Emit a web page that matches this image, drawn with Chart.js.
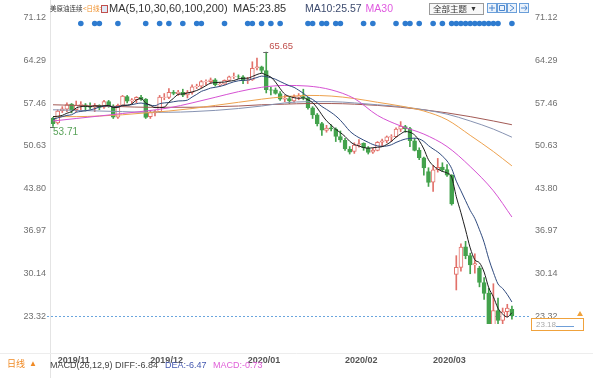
<!DOCTYPE html>
<html><head><meta charset="utf-8">
<script src="https://cdn.jsdelivr.net/npm/chart.js@4.4.1/dist/chart.umd.min.js"></script>
<style>html,body{margin:0;padding:0;background:#fff;overflow:hidden}canvas{display:block}</style>
</head><body>
<canvas id="c" width="593" height="378"></canvas>
<script>
// ---- data ----
const dates = ['2019-10-31',
 '2019-11-01','2019-11-04','2019-11-05','2019-11-06','2019-11-07','2019-11-08','2019-11-11','2019-11-12','2019-11-13','2019-11-14','2019-11-15','2019-11-18','2019-11-19','2019-11-20','2019-11-21','2019-11-22','2019-11-25','2019-11-26','2019-11-27','2019-11-29',
 '2019-12-02','2019-12-03','2019-12-04','2019-12-05','2019-12-06','2019-12-09','2019-12-10','2019-12-11','2019-12-12','2019-12-13','2019-12-16','2019-12-17','2019-12-18','2019-12-19','2019-12-20','2019-12-23','2019-12-24','2019-12-26','2019-12-27','2019-12-30','2019-12-31',
 '2020-01-02','2020-01-03','2020-01-06','2020-01-07','2020-01-08','2020-01-09','2020-01-10','2020-01-13','2020-01-14','2020-01-15','2020-01-16','2020-01-17','2020-01-21','2020-01-22','2020-01-23','2020-01-24','2020-01-27','2020-01-28','2020-01-29','2020-01-30','2020-01-31',
 '2020-02-03','2020-02-04','2020-02-05','2020-02-06','2020-02-07','2020-02-10','2020-02-11','2020-02-12','2020-02-13','2020-02-14','2020-02-18','2020-02-19','2020-02-20','2020-02-21','2020-02-24','2020-02-25','2020-02-26','2020-02-27','2020-02-28',
 '2020-03-02','2020-03-03','2020-03-04','2020-03-05','2020-03-06','2020-03-09','2020-03-10','2020-03-11','2020-03-12','2020-03-13','2020-03-16','2020-03-17','2020-03-18','2020-03-19','2020-03-20','2020-03-23','2020-03-24','2020-03-25'];

const opens = [55.06,54.30,56.25,56.50,57.30,56.40,57.10,57.20,56.90,56.80,
 57.10,56.80,57.70,57.00,55.20,57.10,58.50,57.80,58.00,58.40,
 58.10,55.30,55.90,56.10,58.40,58.40,59.20,59.00,59.20,58.80,
 59.20,60.10,60.20,60.90,60.90,61.20,60.40,60.50,61.10,61.70,
 61.70,61.70,61.10,61.20,63.10,63.30,62.70,59.60,59.60,59.00,
 58.10,58.20,57.80,58.50,58.50,58.30,56.70,55.60,54.20,53.10,
 53.50,53.30,52.10,51.50,50.10,49.70,50.80,51.00,50.30,49.60,
 49.90,51.20,51.40,52.00,52.10,53.30,53.70,53.40,51.40,49.90,
 48.70,46.50,44.80,46.80,47.20,46.80,45.90,30.00,31.10,34.40,
 33.00,31.50,31.00,28.70,27.00,21.00,24.20,22.60,24.00,24.40];
const highs = [55.20,56.40,56.90,57.50,57.40,57.80,57.70,57.40,57.50,57.40,
 57.20,57.90,57.90,57.20,57.30,58.70,58.70,58.20,58.50,58.70,
 58.20,56.30,56.30,58.70,59.00,59.80,59.50,59.50,59.70,59.50,
 60.40,60.50,61.10,61.20,61.50,61.40,60.80,61.20,61.80,62.30,
 62.00,61.90,61.60,64.10,64.70,63.40,65.65,60.00,59.90,59.30,
 58.70,58.40,58.80,59.00,59.70,58.40,56.90,55.80,54.40,53.90,
 54.00,53.50,53.00,51.80,50.50,51.10,51.60,51.10,50.50,50.20,
 51.30,51.70,52.20,52.40,53.50,54.50,53.90,53.60,51.80,50.30,
 48.80,47.10,47.50,48.60,47.90,47.60,46.00,33.00,34.90,35.30,
 33.40,33.30,31.30,29.50,27.80,28.50,26.20,24.60,25.20,24.90];
const lows = [53.71,54.10,55.95,56.10,55.90,56.10,56.20,56.20,56.50,56.10,
 56.40,56.60,56.80,55.00,55.00,56.90,57.50,57.40,57.50,57.90,
 55.00,55.00,55.40,56.00,58.00,58.20,58.80,58.70,58.50,58.30,
 58.90,59.80,59.90,60.40,60.60,60.20,60.20,60.40,61.00,61.40,
 61.40,60.60,60.60,61.10,62.80,62.30,59.10,58.80,58.90,57.90,
 57.70,57.40,57.60,58.00,58.00,56.50,55.00,53.80,52.30,52.80,
 53.00,51.30,51.20,49.90,49.30,49.40,50.40,49.90,49.30,49.40,
 49.80,50.60,51.10,51.30,52.00,52.90,52.80,50.50,49.80,48.40,
 45.90,44.10,43.30,46.40,46.50,45.70,41.10,27.50,30.50,32.50,
 30.10,30.20,28.00,26.00,20.10,20.30,21.50,21.00,23.20,22.80];
const closes = [54.18,56.20,56.54,57.23,56.35,57.15,57.24,56.86,56.80,57.12,
 56.77,57.72,57.05,55.21,57.11,58.58,57.77,58.01,58.41,58.11,
 55.17,55.96,56.10,58.43,58.45,59.20,59.02,59.24,58.76,59.18,
 60.07,60.21,60.94,60.93,61.22,60.44,60.52,61.11,61.68,61.72,
 61.68,61.06,61.18,63.05,63.27,62.70,59.61,59.56,59.04,58.08,
 58.23,57.81,58.52,58.54,58.34,56.74,55.59,54.19,53.14,53.48,
 53.33,52.14,51.56,50.11,49.61,50.75,50.95,50.32,49.57,49.94,
 51.17,51.42,52.05,52.08,53.29,53.78,53.38,51.43,49.90,48.73,
 47.09,44.76,46.75,47.18,46.78,45.90,41.28,31.13,34.36,32.98,
 31.50,31.73,28.70,26.95,20.40,24.20,22.60,24.00,24.60,23.32];

const ma5 = [55.30,55.36,55.50,55.85,56.10,56.69,56.90,56.97,56.88,57.03,
 56.96,57.05,57.09,56.77,56.77,57.13,57.14,57.34,57.98,58.18,
 57.49,57.13,56.75,56.75,56.82,57.62,58.24,58.86,58.93,59.08,
 59.25,59.49,59.83,60.27,60.67,60.75,60.81,60.84,60.99,61.09,
 61.34,61.45,61.46,61.74,62.05,62.25,61.96,61.64,60.84,59.80,
 58.90,58.54,58.34,58.24,58.29,57.99,57.55,56.68,55.60,54.63,
 53.95,53.26,52.73,52.12,51.35,50.83,50.60,50.35,50.24,50.31,
 50.39,50.48,50.83,51.33,52.00,52.52,52.91,52.79,52.36,51.44,
 50.11,48.38,47.45,46.90,46.51,46.27,45.58,42.45,39.89,37.13,
 34.25,32.34,31.85,30.37,27.86,26.40,24.57,23.63,23.16,23.85];
const ma10 = [54.90,55.10,55.30,55.50,55.60,56.00,56.13,56.24,56.37,56.57,
 56.83,56.98,57.03,56.83,56.90,57.05,57.10,57.22,57.38,57.48,
 57.31,57.14,57.05,57.37,57.50,57.56,57.69,57.81,57.84,57.95,
 58.44,58.87,59.35,59.60,59.88,60.00,60.15,60.34,60.63,60.88,
 61.05,61.13,61.15,61.37,61.57,61.80,61.71,61.55,61.29,60.93,
 60.58,60.25,59.99,59.54,59.05,58.45,58.05,57.51,56.92,56.46,
 55.97,55.41,54.71,53.86,52.99,52.39,51.93,51.54,51.18,50.83,
 50.61,50.54,50.59,50.79,51.16,51.46,51.70,51.81,51.85,51.72,
 51.32,50.65,50.12,49.63,48.98,48.19,46.98,44.95,43.40,41.82,
 40.26,38.96,37.15,35.13,32.50,30.33,28.46,27.74,26.77,25.57];

// long averages, read at every 5th session
const maLongIdx = [0,5,10,15,20,25,30,35,40,45,50,55,60,65,70,75,80,85,90,95,99];
const ma30  = [54.6,55.0,55.4,55.8,56.2,56.7,57.5,58.4,59.3,60.0,60.3,60.2,59.6,58.2,55.5,53.8,52.5,50.5,47.3,43.4,39.2];
const ma60  = [55.3,55.3,55.4,55.6,55.9,56.2,56.6,57.1,57.6,58.1,58.5,58.7,58.6,58.2,57.6,57.0,56.2,54.8,52.3,49.7,47.4];
const ma100 = [56.4,56.3,56.2,56.1,56.0,56.0,56.1,56.3,56.6,57.0,57.5,57.7,57.7,57.5,57.2,56.9,56.4,55.7,54.6,53.3,52.0];
const ma200 = [57.2,57.1,57.0,56.9,56.8,56.8,56.8,56.9,57.0,57.2,57.3,57.4,57.4,57.3,57.1,56.8,56.4,55.9,55.3,54.6,54.0];

// news / event markers row
const eventIdx = [6,9,10,14,20,23,25,28,31,32,37,42,43,45,47,49,55,56,58,59,61,62,67,69,74,76,77,79,82,84,86,87,88,89,90,91,92,93,94,95,96,99];
const eventLevel = 70.24;

const monthLabels = ['2019/11','2019/12','2020/01','2020/02','2020/03'];
const monthIdx = monthLabels.map(m => dates.findIndex(d => d.slice(0,7) === m.replace('/','-')));
const yTicks = [23.32,30.14,36.97,43.80,50.63,57.46,64.29,71.12];
const lastPrice = 23.32;
const tagPrice = '23.18';
const legendMA5 = '23.85', legendMA10 = '25.57';
const macdText = {diff:'-6.84', dea:'-6.47', macd:'-0.73'};

// ---- build ----
const UP = '#e2716a', DOWN = '#43a24c';
const isUp = closes.map((c,i) => c >= opens[i]);
const wick = dates.map((d,i) => ({x:i, y:[lows[i], highs[i]]}));
const body = dates.map((d,i) => ({x:i, y:[opens[i], closes[i]]}));
const pts = arr => arr.map((v,i) => ({x:i, y:v}));
const ptsSparse = arr => arr.map((v,k) => ({x:maLongIdx[k], y:v}));
const lineDs = (label, data, color) => ({type:'line', label, data, borderColor:color, borderWidth:1,
  pointRadius:0, cubicInterpolationMode:'monotone', fill:false, order:0});

const decor = {
  id:'decor',
  beforeDraw(chart){
    const c = chart.ctx; c.save(); c.fillStyle='#fff'; c.fillRect(0,0,chart.width,chart.height); c.restore();
  },
  beforeDatasetsDraw(chart){
    const c = chart.ctx, y = chart.scales.y, a = chart.chartArea;
    const py = Math.round(y.getPixelForValue(lastPrice)) + 0.5;
    c.save(); c.strokeStyle='#6aa5dd'; c.lineWidth=1; c.setLineDash([2,2]);
    c.beginPath(); c.moveTo(47, py); c.lineTo(a.right, py); c.stroke(); c.restore();
  },
  afterDraw(chart){
    const c = chart.ctx, xs = chart.scales.x, ys = chart.scales.y;
    const cjk = s => s + 'px "Noto Sans CJK SC", sans-serif';
    const lat = s => s + 'px "Liberation Sans", Arial, sans-serif';
    const t = (s,x,y,font,color,align) => { c.font=font; c.fillStyle=color; c.textAlign=align||'left'; c.textBaseline='middle'; c.fillText(s,x,y); return c.measureText(s).width; };
    c.save();
    // frame lines
    c.strokeStyle='#e4e4e4'; c.lineWidth=1;
    c.beginPath(); c.moveTo(50.5,0); c.lineTo(50.5,378); c.stroke();
    c.strokeStyle='#ededed';
    c.beginPath(); c.moveTo(0,353.5); c.lineTo(593,353.5); c.stroke();
    // header
    let hx = 50;
    hx += t('美原油连续', hx, 9, cjk(6.5), '#333');
    t('<日线>', hx + 0.5, 9, cjk(6.5), '#f0902a');
    c.fillStyle='#dfe9f6'; c.fillRect(101,5.5,7,7); c.strokeStyle='#c0504d'; c.strokeRect(101.5,5.5,6,7);
    t('MA(5,10,30,60,100,200)', 109, 9, lat(11), '#333');
    t('MA5:' + legendMA5, 233, 9, lat(11), '#333');
    const w10 = t('MA10:' + legendMA10, 305, 9, lat(10.5), '#3c4a6e');
    t('MA30', 305 + w10 + 4, 9, lat(10.5), '#e05ae0');
    // theme dropdown + tool icons
    c.fillStyle='#f8f8f8'; c.fillRect(429.5,3.5,54,11); c.strokeStyle='#9a9a9a'; c.strokeRect(429.5,3.5,54,11);
    t('全部主题', 433, 9, cjk(8.5), '#333');
    t('▼', 470, 9.5, lat(7), '#333');
    [487,497,507,519].forEach((x,k) => {
      c.fillStyle='#eaf2fb'; c.fillRect(x+0.5,3.5,9,9); c.strokeStyle='#6b9fd9'; c.strokeRect(x+0.5,3.5,9,9);
      c.strokeStyle='#4a86cf'; c.beginPath();
      if (k===0){ c.moveTo(x+5,5); c.lineTo(x+5,11); c.moveTo(x+2,8); c.lineTo(x+8,8); }
      else if (k===1){ c.rect(x+2.5,5.5,5,5); }
      else if (k===2){ c.moveTo(x+3,5); c.lineTo(x+7,8); c.lineTo(x+3,11); }
      else { c.moveTo(x+2,8); c.lineTo(x+8,8); c.moveTo(x+6,5.5); c.lineTo(x+8,8); c.lineTo(x+6,10.5); }
      c.stroke();
    });
    // high / low annotations
    const hi = highs.indexOf(Math.max(...highs));
    const firstMonth = lows.slice(0, monthIdx[1]);
    const lo = lows.indexOf(Math.min(...firstMonth));
    let px = xs.getPixelForValue(hi), py = ys.getPixelForValue(highs[hi]);
    c.strokeStyle='#666'; c.beginPath(); c.moveTo(px-3, Math.round(py)+0.5); c.lineTo(px+2, Math.round(py)+0.5); c.stroke();
    t(highs[hi].toFixed(2), px+3, py-6, lat(9.5), '#c0504d');
    px = xs.getPixelForValue(lo); py = ys.getPixelForValue(lows[lo]);
    c.strokeStyle='#666'; c.beginPath(); c.moveTo(px-3, Math.round(py)+0.5); c.lineTo(px+2, Math.round(py)+0.5); c.stroke();
    t(lows[lo].toFixed(2), px, py+6, lat(10), '#5aa35a');
    // right price tag
    c.strokeStyle='#f0a23c'; c.strokeRect(531.5,318.5,52,12);
    c.fillStyle='#fff'; c.fillRect(532,319,51,11);
    t(tagPrice, 536, 325, lat(8), '#aaa');
    c.strokeStyle='#6f9fd8'; c.beginPath(); c.moveTo(556,326.5); c.lineTo(574,326.5); c.stroke();
    c.fillStyle='#f0a23c'; c.beginPath(); c.moveTo(580,311); c.lineTo(583,316); c.lineTo(577,316); c.closePath(); c.fill();
    // bottom bar
    t('日线', 7, 364, cjk(9), '#f08a24');
    t('▲', 29, 364, lat(8), '#f08a24');
    t('MACD(26,12,9) DIFF:' + macdText.diff, 50, 366, lat(9), '#444');
    t('DEA:' + macdText.dea, 165, 366, lat(9), '#4458b0');
    t('MACD:' + macdText.macd, 213, 366, lat(9), '#e060d8');
    c.restore();
  }
};

Chart.defaults.font.family = '"Liberation Sans", Arial, sans-serif';
new Chart(document.getElementById('c'), {
  type:'bar',
  data:{ datasets:[
    {type:'line', label:'events', data: eventIdx.map(i => ({x:i, y:eventLevel})), showLine:false,
      pointRadius:2.8, pointBackgroundColor:'#2e7bcf', pointBorderWidth:0, order:0},
    lineDs('MA5', pts(ma5), '#1e1e1e'),
    lineDs('MA10', pts(ma10), '#2f4a7e'),
    lineDs('MA30', ptsSparse(ma30), '#d652d3'),
    lineDs('MA60', ptsSparse(ma60), '#eea24e'),
    lineDs('MA100', ptsSparse(ma100), '#8793b2'),
    lineDs('MA200', ptsSparse(ma200), '#a35a55'),
    {label:'body', data: body, grouped:false, barThickness:4, borderWidth:1, borderSkipped:false,
      backgroundColor: isUp.map(u => u ? '#ffffff' : DOWN), borderColor: isUp.map(u => u ? UP : DOWN), order:1},
    {label:'wick', data: wick, grouped:false, barThickness:1, borderWidth:0,
      backgroundColor: isUp.map(u => u ? UP : DOWN), order:2}
  ]},
  options:{
    responsive:false, animation:false,
    layout:{padding:{top:14, left:0, right:0, bottom:0}},
    plugins:{legend:{display:false}, tooltip:{enabled:false}},
    scales:{
      x:{type:'linear', min:-0.65, max:102.9, offset:false,
        grid:{display:false, drawTicks:false}, border:{display:false},
        afterBuildTicks: s => { s.ticks = monthIdx.map(v => ({value:v})); },
        afterFit: s => { s.height = 54; },
        ticks:{autoSkip:false, maxRotation:0, minRotation:0, align:'start', padding:31, color:'#555',
          font:{size:9, weight:'bold'}, callback:(v,i) => monthLabels[i]}},
      y:{position:'left', min:22.04, max:71.76,
        grid:{display:false, drawTicks:false}, border:{display:false},
        afterBuildTicks: s => { s.ticks = yTicks.map(v => ({value:v})); },
        afterFit: s => { s.width = 50; },
        ticks:{padding:4, color:'#707070', font:{size:9}, callback: v => Number(v).toFixed(2)}},
      y2:{position:'right', min:22.04, max:71.76,
        grid:{display:false, drawTicks:false}, border:{display:false},
        afterBuildTicks: s => { s.ticks = yTicks.map(v => ({value:v})); },
        afterFit: s => { s.width = 63; },
        ticks:{padding:5, color:'#707070', font:{size:9}, callback: v => Number(v).toFixed(2)}}
    }
  },
  plugins:[decor]
});
</script>
</body></html>
